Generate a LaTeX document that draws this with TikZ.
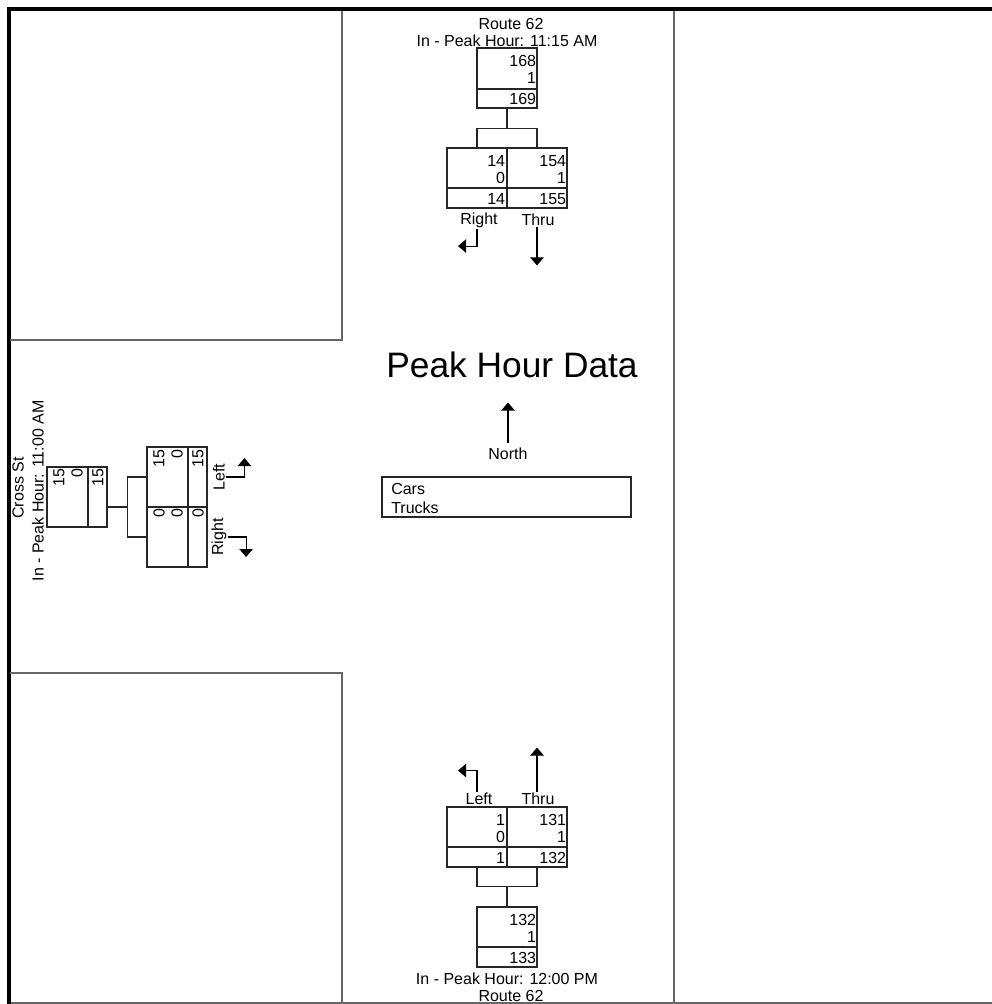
\documentclass[tikz,border=0pt]{standalone}
\usepackage{fontspec}
\setmainfont{Liberation Sans}
\usetikzlibrary{arrows.meta}

\begin{document}
\begin{tikzpicture}[
    x=0.75pt, y=-0.75pt,
    >={Triangle[length=6pt,width=10pt]},
    % Styles
    road/.style={draw=black!60, line width=1.1pt},
    frame/.style={draw=black, line width=3pt},
    cell/.style={
      rectangle,
      draw=black!85,
      line width=0.8pt,
      minimum width=45pt,
      minimum height=45pt,
      inner sep=0pt,
    },
    pair/.style={cell, minimum width=90pt},
    pairv/.style={cell, minimum height=90pt},
    wire/.style={draw=black!85, line width=0.8pt},
    turn/.style={->, draw=black, line width=0.8pt},
    num/.style={anchor=east, inner sep=0.5pt, font=\fontsize{12}{14}\selectfont},
    lbl/.style={inner sep=1pt, font=\fontsize{12}{14}\selectfont},
  ]
  \useasboundingbox (0,0) rectangle (992,1004);
  % frame and road edges
  \draw[frame] (9,1004) -- (9,9) -- (992,9);
  \draw[road] (10,340) -- (342,340) -- (342,11);
  \draw[road] (10,673) -- (342,673) -- (342,1003);
  \draw[road] (674,11) -- (674,1003);
  \draw[road] (11,1003) -- (992,1003);

  % Route 62, north leg
  \node[lbl] (tname) at (511,24) {Route 62};
  \node[lbl] (tpeak) at (507,41) {In - Peak Hour: 11:15 AM};
  \node[cell] (tin) at (507,78) {};
  \draw[wire] (tin.west) ++(0,11) -- ++(60,0);
  \node[num] (tin1) at (537,61) {168};
  \node[num] (tin2) at (537,78) {1};
  \node[num] (tin3) at (537,99) {169};
  \node[pair] (tout) at (507,178) {};
  \draw[wire] (tout.north) -- (tout.south);
  \draw[wire] (tout.west) ++(0,10) -- ++(120,0);
  \node[num] (toutR1) at (506,161) {14};
  \node[num] (toutR2) at (506,178) {0};
  \node[num] (toutR3) at (506,199) {14};
  \node[num] (toutT1) at (567,161) {154};
  \node[num] (toutT2) at (567,178) {1};
  \node[num] (toutT3) at (567,199) {155};
  \path (tout.north) ++(-30,0) coordinate (tR) ++(60,0) coordinate (tT);
  \draw[wire] (tin.south) -- ++(0,20) coordinate (tb);
  \draw[wire] (tR) |- (tb) -| (tT);
  \node[lbl] (tRl) at (479,220) {Right};
  \node[lbl] (tTl) at (538,220) {Thru};
  \draw[turn] (tRl.south -| tR) -- ++(0,17) -- ++(-19,0);
  \draw[turn] (tTl.south -| tT) -- ++(0,38);

  % Cross St, west leg
  \node[lbl, rotate=90] (lname) at (18,488) {Cross St};
  \node[lbl, rotate=90] (lpeak) at (38,491) {In - Peak Hour: 11:00 AM};
  \node[cell] (lin) at (77,497) {};
  \draw[wire] (lin.north) ++(11,0) -- ++(0,60);
  \node[num, rotate=90] (lin1) at (59,468) {15};
  \node[num, rotate=90] (lin2) at (77,468) {0};
  \node[num, rotate=90] (lin3) at (98,468) {15};
  \node[pairv] (lout) at (177,507) {};
  \draw[wire] (lout.west) -- (lout.east);
  \draw[wire] (lout.north) ++(11,0) -- ++(0,120);
  \node[num, rotate=90] (loutL1) at (159,449) {15};
  \node[num, rotate=90] (loutL2) at (177,449) {0};
  \node[num, rotate=90] (loutL3) at (198,449) {15};
  \node[num, rotate=90] (loutR1) at (159,508) {0};
  \node[num, rotate=90] (loutR2) at (177,508) {0};
  \node[num, rotate=90] (loutR3) at (198,508) {0};
  \path (lout.west) ++(0,-30) coordinate (lL) ++(0,60) coordinate (lR);
  \draw[wire] (lin.east |- lout.west) -- ++(20,0) coordinate (lb);
  \draw[wire] (lL) -| (lb) |- (lR);
  \node[lbl, rotate=90] (lLl) at (219,477) {Left};
  \node[lbl, rotate=90] (lRl) at (219,537) {Right};
  \draw[turn] (lLl.south) -- ++(18,0) -- ++(0,-19);
  \draw[turn] (lRl.south) -- ++(18,0) -- ++(0,20);

  % title, north arrow and legend
  \node[font=\fontsize{26.5}{31}\selectfont] (title) at (512,365) {Peak Hour Data};
  \node[lbl] (north) at (508,454) {North};
  \draw[turn] ([yshift=3pt]north.north) -- ++(0,-40);
  \node[draw=black!85, line width=0.8pt, minimum width=186.75pt,
    minimum height=30pt, inner sep=0pt] (legend) at (506.5,497) {};
  \node[lbl, anchor=west, inner sep=0pt] (cars) at (391,489) {Cars};
  \node[lbl, anchor=west, inner sep=0pt] (trucks) at (391,508) {Trucks};

  % Route 62, south leg
  \node[lbl] (bLl) at (479,799) {Left};
  \node[lbl] (bTl) at (538,799) {Thru};
  \node[pair] (bout) at (507,837) {};
  \draw[wire] (bout.north) -- (bout.south);
  \draw[wire] (bout.west) ++(0,10) -- ++(120,0);
  \node[num] (boutL1) at (506,820) {1};
  \node[num] (boutL2) at (506,837) {0};
  \node[num] (boutL3) at (506,858) {1};
  \node[num] (boutT1) at (567,820) {131};
  \node[num] (boutT2) at (567,837) {1};
  \node[num] (boutT3) at (567,858) {132};
  \path (bout.south) ++(-30,0) coordinate (bL) ++(60,0) coordinate (bT);
  \node[cell] (bin) at (507,937) {};
  \draw[wire] (bin.west) ++(0,10) -- ++(60,0);
  \node[num] (bin1) at (537,920) {132};
  \node[num] (bin2) at (537,937) {1};
  \node[num] (bin3) at (537,958) {133};
  \draw[wire] (bin.north) -- ++(0,-20) coordinate (bb);
  \draw[wire] (bL) |- (bb) -| (bT);
  \draw[turn] (bLl.north -| bL) -- ++(0,-21) -- ++(-19,0);
  \draw[turn] (bTl.north -| bT) -- ++(0,-44);
  \node[lbl] (bpeak) at (507,979) {In - Peak Hour: 12:00 PM};
  \node[lbl] (bname) at (511,996) {Route 62};
\end{tikzpicture}
\end{document}
